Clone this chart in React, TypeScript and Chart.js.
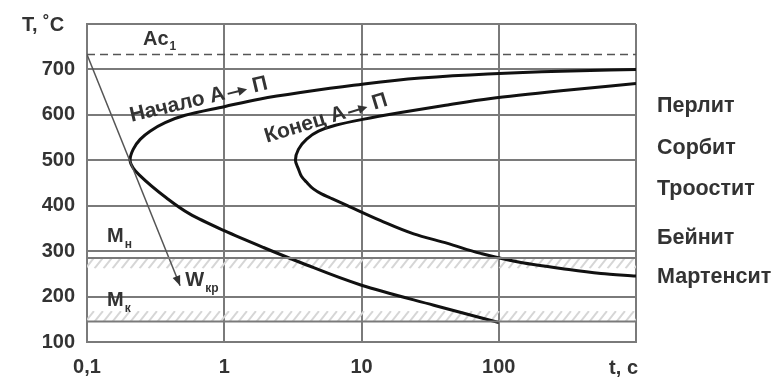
import { useEffect, useRef } from "react";
import { Chart, registerables } from "chart.js";

Chart.register(...registerables);

const FONT = '"Liberation Sans", Arial, sans-serif';

// axis ticks
const timeTicks = [0.1, 1, 10, 100, 1000];
const timeTickLabels = ["0,1", "1", "10", "100", ""];
const tempMin = 100;
const tempMax = 800;
const timeMin = 0.1;
const timeMax = 1000;

// "Начало A → П" curve (start of transformation), ordered by falling temperature
const startTimes = [1000, 284, 83, 26.9, 8.75, 3.59, 1.83, 1, 0.519, 0.371, 0.288, 0.244, 0.217, 0.206, 0.217, 0.24, 0.38, 0.56, 1, 1.93, 3.59, 10, 33.6, 100];
const startTemps = [700, 696, 690, 681, 665, 649, 635, 618, 599, 583, 564, 546, 524, 500, 483, 468, 417, 382, 345, 308, 275, 225, 181, 143];

// "Конец A → П" curve (end of transformation), ordered by falling temperature
const endTimes = [1000, 284, 87.5, 41, 19.3, 10.2, 6.46, 4.86, 3.97, 3.47, 3.3, 3.47, 3.65, 3.97, 4.46, 5.11, 5.94, 7.9, 13.8, 24, 42.4, 73.9, 145, 284, 556, 1000];
const endTemps = [669, 653, 636, 621, 605, 590, 577, 564, 546, 524, 500, 481, 465, 452, 437, 426, 417, 400, 367, 338, 317, 295, 275, 262, 251, 245];

// critical cooling rate line
const coolingTimes = [0.1, 0.477];
const coolingTemps = [733, 224];

// reference temperatures
const ac1Temp = 733;
const msTemp = 285;
const mfTemp = 145;
const msHatch = [262, 285];
const mfHatch = [145, 168];

// phase names on the right
const phaseLabels = ["Перлит", "Сорбит", "Троостит", "Бейнит", "Мартенсит"];
const phaseTemps = [620, 527, 437, 328, 243];

const toPoints = (xs: number[], ys: number[]) => xs.map((x, i) => ({ x, y: ys[i] }));

const annotations = {
  id: "annotations",
  beforeDatasetsDraw(chart: any) {
    const { ctx, chartArea, scales } = chart;
    const y = scales.y;
    ctx.save();
    [msHatch, mfHatch].forEach(([lo, hi]) => {
      const yTop = y.getPixelForValue(hi);
      const yBot = y.getPixelForValue(lo);
      const h = yBot - yTop;
      ctx.save();
      ctx.beginPath();
      ctx.rect(chartArea.left, yTop, chartArea.right - chartArea.left, h);
      ctx.clip();
      ctx.strokeStyle = "#d6d6d6";
      ctx.lineWidth = 2;
      for (let x = chartArea.left - h; x < chartArea.right + h; x += 9) {
        ctx.beginPath();
        ctx.moveTo(x, yBot);
        ctx.lineTo(x + h * 0.8, yTop);
        ctx.stroke();
      }
      ctx.restore();
    });
    ctx.restore();
  },
  afterDatasetsDraw(chart: any) {
    const { ctx, chartArea, scales } = chart;
    const x = scales.x;
    const y = scales.y;
    ctx.save();
    ctx.fillStyle = "#333";
    ctx.textBaseline = "middle";

    // arrow head on cooling line
    const x0 = x.getPixelForValue(coolingTimes[0]);
    const y0 = y.getPixelForValue(coolingTemps[0]);
    const x1 = x.getPixelForValue(coolingTimes[1]);
    const y1 = y.getPixelForValue(coolingTemps[1]);
    const ang = Math.atan2(y1 - y0, x1 - x0);
    ctx.beginPath();
    ctx.moveTo(x1, y1);
    ctx.lineTo(x1 - 10 * Math.cos(ang) + 4 * Math.sin(ang), y1 - 10 * Math.sin(ang) - 4 * Math.cos(ang));
    ctx.lineTo(x1 - 10 * Math.cos(ang) - 4 * Math.sin(ang), y1 - 10 * Math.sin(ang) + 4 * Math.cos(ang));
    ctx.closePath();
    ctx.fill();

    // axis titles
    ctx.font = `bold 20px ${FONT}`;
    ctx.textAlign = "left";
    ctx.fillText("T, ˚C", 22, 25);
    ctx.textAlign = "right";
    ctx.fillText("t, c", chartArea.right + 2, 368);

    // phase labels
    ctx.font = `bold 21.5px ${FONT}`;
    ctx.textAlign = "left";
    phaseLabels.forEach((label, i) => {
      ctx.fillText(label, chartArea.right + 21, y.getPixelForValue(phaseTemps[i]));
    });

    // labels with subscripts
    const sub = (main: string, subText: string, t: number, T: number) => {
      const px = x.getPixelForValue(t);
      const py = y.getPixelForValue(T);
      ctx.font = `bold 20px ${FONT}`;
      ctx.textAlign = "left";
      ctx.fillText(main, px, py);
      const w = ctx.measureText(main).width;
      ctx.font = `bold 12px ${FONT}`;
      ctx.fillText(subText, px + w + 1, py + 8);
    };
    sub("Ac", "1", 0.256, 767);
    sub("M", "н", 0.14, 332);
    sub("M", "к", 0.14, 192);
    sub("W", "кр", 0.52, 236);

    // rotated curve labels: text, then a small filled arrow, then "П"
    const rot = (word: string, t: number, T: number, deg: number) => {
      ctx.save();
      ctx.translate(x.getPixelForValue(t), y.getPixelForValue(T));
      ctx.rotate((deg * Math.PI) / 180);
      ctx.font = `bold 21px ${FONT}`;
      const left = word + " А ";
      const wl = ctx.measureText(left).width;
      const arrowW = 20;
      const wp = ctx.measureText(" П").width;
      const total = wl + arrowW + wp;
      let cx = -total / 2;
      ctx.textAlign = "left";
      ctx.fillText(left, cx, 0);
      cx += wl - 3;
      ctx.strokeStyle = "#333";
      ctx.lineWidth = 2;
      ctx.beginPath();
      ctx.moveTo(cx, 1);
      ctx.lineTo(cx + arrowW - 8, 1);
      ctx.stroke();
      ctx.beginPath();
      ctx.moveTo(cx + arrowW, 1);
      ctx.lineTo(cx + arrowW - 9, -3.5);
      ctx.lineTo(cx + arrowW - 9, 5.5);
      ctx.closePath();
      ctx.fill();
      cx += arrowW;
      ctx.fillText(" П", cx, 0);
      ctx.restore();
    };
    rot("Начало", 0.668, 634, -13.5);
    rot("Конец", 5.65, 593, -17);
    ctx.restore();
  },
};

export default function App() {
  const ref = useRef<HTMLCanvasElement | null>(null);
  useEffect(() => {
    if (!ref.current) return;
    const hLine = (T: number) => toPoints([timeMin, timeMax], [T, T]);
    const chart = new Chart(ref.current, {
      type: "line",
      data: {
        datasets: [
          { data: hLine(ac1Temp), borderColor: "#555", borderWidth: 1.5, borderDash: [8, 5], pointRadius: 0 },
          { data: hLine(msTemp), borderColor: "#7a7a7a", borderWidth: 2, pointRadius: 0 },
          { data: hLine(mfTemp), borderColor: "#7a7a7a", borderWidth: 2, pointRadius: 0 },
          { data: toPoints(coolingTimes, coolingTemps), borderColor: "#555", borderWidth: 1.5, pointRadius: 0 },
          { data: toPoints(startTimes, startTemps), borderColor: "#111", borderWidth: 3, pointRadius: 0, cubicInterpolationMode: "monotone" },
          { data: toPoints(endTimes, endTemps), borderColor: "#111", borderWidth: 3, pointRadius: 0, cubicInterpolationMode: "monotone" },
        ],
      },
      options: {
        animation: false,
        responsive: false,
        indexAxis: "y",
        events: [],
        layout: { padding: { left: 0, top: 22, right: 145, bottom: 0 } },
        plugins: { legend: { display: false }, tooltip: { enabled: false } },
        scales: {
          x: {
            type: "logarithmic",
            min: timeMin,
            max: timeMax,
            afterBuildTicks: (scale: any) => {
              scale.ticks = timeTicks.map((v) => ({ value: v }));
            },
            afterFit: (scale: any) => {
              scale.height = 41;
            },
            ticks: {
              autoSkip: false,
              maxRotation: 0,
              padding: 13,
              color: "#333",
              font: { family: FONT, size: 20, weight: "bold" },
              callback: (v: any) => {
                const i = timeTicks.findIndex((t) => Math.abs(t - Number(v)) < 1e-9);
                return i >= 0 ? timeTickLabels[i] : "";
              },
            },
            grid: { color: "#7a7a7a", lineWidth: 2, drawTicks: false },
            border: { color: "#7a7a7a", width: 2 },
          },
          y: {
            type: "linear",
            min: tempMin,
            max: tempMax,
            afterFit: (scale: any) => {
              scale.width = 87;
            },
            ticks: {
              stepSize: 100,
              padding: 12,
              color: "#333",
              font: { family: FONT, size: 20, weight: "bold" },
              callback: (v: any) => (Number(v) === tempMax ? "" : String(v)),
            },
            grid: { color: "#7a7a7a", lineWidth: 2, drawTicks: false },
            border: { color: "#7a7a7a", width: 2 },
          },
        },
      },
      plugins: [annotations],
    });
    return () => chart.destroy();
  }, []);
  return (
    <div style={{ position: "fixed", left: 0, top: 0, width: 781, height: 383, background: "#fff" }}>
      <canvas ref={ref} width={781} height={383} style={{ width: 781, height: 383 }} />
    </div>
  );
}
